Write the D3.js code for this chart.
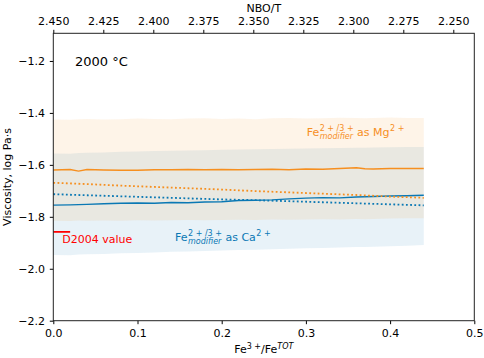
<!DOCTYPE html>
<html>
<head>
<meta charset="utf-8">
<script src="https://cdn.jsdelivr.net/npm/d3@7"></script>
<style>
  body { margin: 0; background: #fff; }
  svg { font-family: "DejaVu Sans", sans-serif; }
</style>
</head>
<body>
<div id="chart"></div>
<script>
// Fe3+/FeTOT sample points for the model curves
const fe3Ratio = [0, 0.02, 0.03, 0.04, 0.06, 0.08, 0.10, 0.12, 0.14, 0.16, 0.18, 0.20,
                  0.22, 0.24, 0.26, 0.28, 0.30, 0.32, 0.34, 0.36, 0.37, 0.38, 0.40, 0.42, 0.44];

// Fe as Mg2+ (orange)
const mgVisc   = [-1.620, -1.618, -1.624, -1.618, -1.620, -1.621, -1.621, -1.619, -1.619, -1.618, -1.619, -1.618,
                  -1.619, -1.618, -1.617, -1.619, -1.616, -1.617, -1.614, -1.611, -1.615, -1.616, -1.614, -1.614, -1.614];
const mgBandHi = [-1.425, -1.426, -1.424, -1.423, -1.425, -1.424, -1.422, -1.423, -1.424, -1.422, -1.421, -1.423,
                  -1.422, -1.424, -1.421, -1.420, -1.422, -1.421, -1.419, -1.420, -1.421, -1.420, -1.418, -1.420, -1.420];
const mgBandLo = [-1.815, -1.816, -1.814, -1.815, -1.814, -1.815, -1.813, -1.814, -1.813, -1.812, -1.813, -1.812,
                  -1.811, -1.812, -1.810, -1.811, -1.810, -1.809, -1.810, -1.808, -1.809, -1.808, -1.807, -1.806, -1.806];

// Fe as Ca2+ (blue)
const caVisc   = [-1.755, -1.754, -1.753, -1.752, -1.750, -1.748, -1.747, -1.748, -1.745, -1.746, -1.743, -1.742,
                  -1.737, -1.736, -1.735, -1.731, -1.728, -1.726, -1.727, -1.724, -1.723, -1.722, -1.720, -1.719, -1.717];
const caBandHi = [-1.556, -1.557, -1.554, -1.553, -1.552, -1.550, -1.549, -1.547, -1.546, -1.545, -1.544, -1.542,
                  -1.541, -1.540, -1.539, -1.538, -1.537, -1.536, -1.535, -1.534, -1.534, -1.533, -1.532, -1.531, -1.531];
const caBandLo = [-1.947, -1.948, -1.945, -1.944, -1.943, -1.940, -1.939, -1.937, -1.935, -1.934, -1.932, -1.930,
                  -1.928, -1.927, -1.925, -1.923, -1.921, -1.920, -1.918, -1.916, -1.916, -1.915, -1.913, -1.911, -1.909];

// dotted curves
const dotRatio = [0, 0.04, 0.08, 0.12, 0.16, 0.20, 0.24, 0.28, 0.32, 0.36, 0.40, 0.44];
const mgDotted = [-1.669, -1.674, -1.680, -1.685, -1.690, -1.695, -1.701, -1.706, -1.711, -1.716, -1.722, -1.727];
const caDotted = [-1.713, -1.717, -1.721, -1.725, -1.729, -1.733, -1.736, -1.740, -1.744, -1.748, -1.752, -1.756];

// D2004 reference value
const d2004Ratio = [0, 0.02];
const d2004Visc = -1.858;

// ticks
const xTicks = [0, 0.1, 0.2, 0.3, 0.4, 0.5];
const yTicks = [-2.2, -2.0, -1.8, -1.6, -1.4, -1.2];
const nboTicks = [2.450, 2.425, 2.400, 2.375, 2.350, 2.325, 2.300, 2.275, 2.250];

const W = 484, H = 358;
const pLeft = 53.3, pRight = 474.3, pTop = 33.3, pBottom = 320.7;
const orange = "#f68f1f", blue = "#0a78b4";

const svg = d3.select("#chart").append("svg")
    .attr("width", W).attr("height", H);

const x = d3.scaleLinear().domain([0, 0.5]).range([pLeft, pRight]);
const y = d3.scaleLinear().domain([-2.2, -1.0935]).range([pBottom, pTop]);
const xTop = d3.scaleLinear().domain([2.45, 2.2395]).range([pLeft, pRight]);

// bands
const band = (hi, lo) => d3.area()
    .x((d, i) => x(fe3Ratio[i]))
    .y0((d, i) => y(lo[i]))
    .y1((d, i) => y(hi[i]))(fe3Ratio);

svg.append("path").attr("d", band(caBandHi, caBandLo))
    .attr("fill", blue).attr("fill-opacity", 0.095);
svg.append("path").attr("d", band(mgBandHi, mgBandLo))
    .attr("fill", orange).attr("fill-opacity", 0.1);

// lines
const line = vals => d3.line()
    .x((d, i) => x(fe3Ratio[i]))
    .y((d, i) => y(vals[i]))(fe3Ratio);
const dotLine = vals => d3.line()
    .x((d, i) => x(dotRatio[i]))
    .y((d, i) => y(vals[i]))(dotRatio);

svg.append("path").attr("d", line(mgVisc))
    .attr("fill", "none").attr("stroke", orange).attr("stroke-width", 1.4);
svg.append("path").attr("d", line(caVisc))
    .attr("fill", "none").attr("stroke", blue).attr("stroke-width", 1.4);
svg.append("path").attr("d", dotLine(mgDotted))
    .attr("fill", "none").attr("stroke", orange).attr("stroke-width", 1.8)
    .attr("stroke-dasharray", "1.8,2.4");
svg.append("path").attr("d", dotLine(caDotted))
    .attr("fill", "none").attr("stroke", blue).attr("stroke-width", 1.8)
    .attr("stroke-dasharray", "1.8,2.4");

svg.append("line")
    .attr("x1", x(d2004Ratio[0])).attr("x2", x(d2004Ratio[1]))
    .attr("y1", y(d2004Visc)).attr("y2", y(d2004Visc))
    .attr("stroke", "#ff0000").attr("stroke-width", 1.8);

// axes
const fs = "11px";
const gx = svg.append("g").attr("transform", `translate(0,${pBottom})`)
    .call(d3.axisBottom(x).tickValues(xTicks).tickFormat(d3.format(".1f")).tickSize(3.5).tickPadding(5).tickSizeOuter(0));
const gy = svg.append("g").attr("transform", `translate(${pLeft},0)`)
    .call(d3.axisLeft(y).tickValues(yTicks).tickFormat(d3.format(".1f")).tickSize(3.5).tickPadding(4.8).tickSizeOuter(0));
const gt = svg.append("g").attr("transform", `translate(0,${pTop})`)
    .call(d3.axisTop(xTop).tickValues(nboTicks).tickFormat(d3.format(".3f")).tickSize(3.5).tickPadding(4.8).tickSizeOuter(0));
[gx, gy, gt].forEach(g => {
  g.select(".domain").remove();
  g.selectAll("text").attr("font-size", fs).attr("fill", "#000").attr("font-family", "DejaVu Sans");
  g.selectAll("line").attr("stroke", "#000");
});

svg.append("rect")
    .attr("x", pLeft).attr("y", pTop).attr("width", pRight - pLeft).attr("height", pBottom - pTop)
    .attr("fill", "none").attr("stroke", "#222").attr("stroke-width", 1);

// axis titles
svg.append("text").attr("x", (pLeft + pRight) / 2).attr("y", 11.7)
    .attr("text-anchor", "middle").attr("font-size", fs).text("NBO/T");
svg.append("text").attr("transform", `translate(11,${(pTop + pBottom) / 2}) rotate(-90)`)
    .attr("text-anchor", "middle").attr("font-size", fs).text("Viscosity, log Pa·s");
const xl = svg.append("text").attr("x", (pLeft + pRight) / 2).attr("y", 353)
    .attr("text-anchor", "middle").attr("font-size", fs);
xl.append("tspan").text("Fe");
xl.append("tspan").attr("font-size", "8px").attr("dy", -4.5).text("3 +");
xl.append("tspan").attr("dy", 4.5).text("/Fe");
xl.append("tspan").attr("font-size", "8px").attr("font-style", "italic").attr("dy", -4.5).text("TOT");

// annotations
svg.append("text").attr("x", 75).attr("y", 66).attr("font-size", "13px").text("2000 °C");
svg.append("text").attr("x", 62.3).attr("y", 243).attr("font-size", fs)
    .attr("fill", "#ff0000").text("D2004 value");

function feLabel(x0, y0, ion, color) {
  const g = svg.append("g").attr("fill", color).attr("font-size", fs);
  const fe = g.append("text").attr("x", x0).attr("y", y0).text("Fe");
  let cx = x0 + fe.node().getComputedTextLength() + 0.5;
  const sup = g.append("text").attr("x", cx).attr("y", y0 - 5).attr("font-size", "8px").text("2 + /3 +");
  const sub = g.append("text").attr("x", cx).attr("y", y0 + 3).attr("font-size", "8px")
      .attr("font-style", "italic").text("modifier");
  cx += Math.max(sup.node().getComputedTextLength(), sub.node().getComputedTextLength());
  const as = g.append("text").attr("x", cx).attr("y", y0).attr("xml:space", "preserve").text(" as " + ion);
  cx += as.node().getComputedTextLength() + 0.5;
  g.append("text").attr("x", cx).attr("y", y0 - 5).attr("font-size", "8px").text("2 +");
}
feLabel(175, 241, "Ca", blue);
feLabel(306.7, 135.7, "Mg", orange);
</script>
</body>
</html>
